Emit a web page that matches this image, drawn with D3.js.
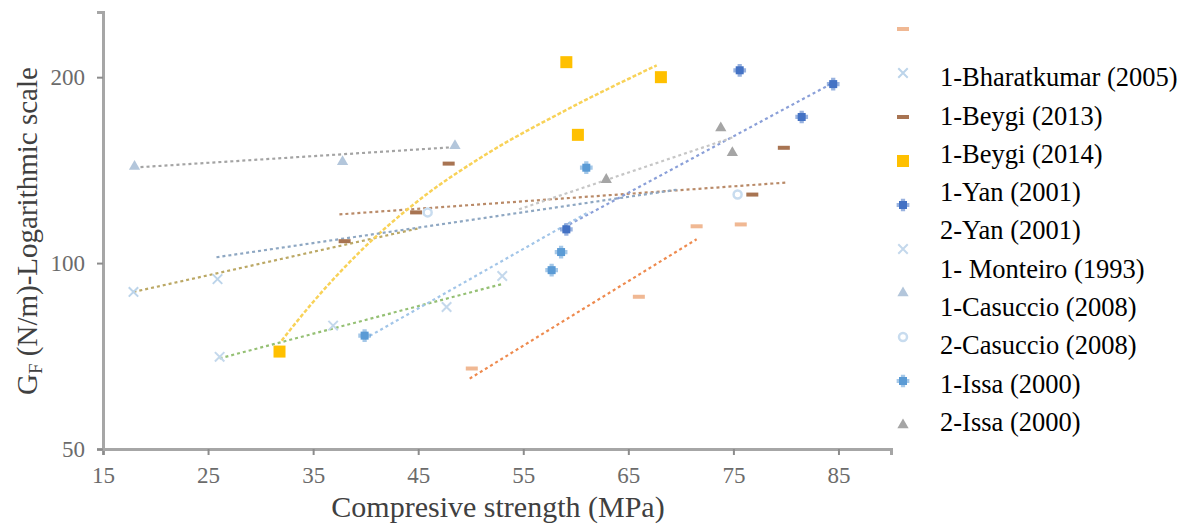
<!DOCTYPE html>
<html>
<head>
<meta charset="utf-8">
<script src="https://cdn.jsdelivr.net/npm/d3@7"></script>
<style>
  body { margin: 0; background: #fff; }
  text { font-family: "Liberation Serif", "DejaVu Serif", serif; }
</style>
</head>
<body>
<script>
// values: [compressive strength MPa, GF N/m]
const orangePts = [[50.1, 67.5], [66.0, 88.2], [71.5, 114.7], [75.7, 115.5]];
const orangeTrend = [[49.9, 65.0], [71.5, 109.3]];

const bharatPts = [[17.9, 89.8], [25.9, 94.2]];
const bharatTrend = [[17.9, 89.8], [45.1, 113.9]];

const beygi13Pts = [[38.0, 108.5], [44.8, 120.8], [47.9, 144.9], [76.8, 129.1], [79.8, 153.7]];
const beygi13Trend = [[37.5, 119.9], [80.0, 135.0]];

const beygi14Pts = [[31.8, 71.9], [59.1, 211.5], [60.2, 161.3], [68.1, 200.0]];
const beygi14Trend = [[32.0, 74.9], [35.0, 86.5], [39.4, 104.1], [45.4, 127.7], [51.1, 148.7], [59.1, 177.0], [67.7, 209.0]];

const yan1Pts = [[59.1, 113.4], [75.6, 205.2], [81.5, 172.4], [84.5, 194.9]];
const yan1Trend = [[58.9, 114.3], [84.6, 196.3]];

const yan2Pts = [[26.1, 70.5], [36.9, 79.2], [47.7, 84.9], [53.0, 95.3]];
const yan2Trend = [[26.1, 70.1], [53.0, 92.5]];

const casuccio1Pts = [[18.0, 143.3], [37.8, 145.9], [48.5, 154.9]];
const casuccio1Trend = [[18.0, 142.8], [48.5, 154.1]];

const casuccio2Pts = [[45.9, 120.8], [75.4, 129.1]];
const casuccio2Trend = [[25.8, 102.2], [69.8, 131.6]];

const issa1Pts = [[39.9, 76.3], [57.7, 97.4], [58.6, 104.2], [61.0, 142.7]];
const issa1Trend = [[39.9, 75.4], [61.3, 121.2]];

const issa2Pts = [[62.9, 136.5], [73.8, 165.5], [74.9, 150.9]];
const issa2Trend = [[54.6, 122.2], [75.1, 160.1]];

const legendLabels = ["1-Bharatkumar (2005)", "1-Beygi (2013)", "1-Beygi (2014)", "1-Yan (2001)",
  "2-Yan (2001)", "1- Monteiro (1993)", "1-Casuccio (2008)", "2-Casuccio (2008)",
  "1-Issa (2000)", "2-Issa (2000)"];

const xTicks = [15, 25, 35, 45, 55, 65, 75, 85];
const yTicks = [50, 100, 200];

const W = 1187, H = 525;

const svg = d3.select("body").append("svg").attr("width", W).attr("height", H);

const x = d3.scaleLinear().domain([15, 90]).range([103, 891]);
const y = d3.scaleLog().domain([50, 255]).range([449, 12]);

// series styles
const series = [
  { pts: orangePts, trend: orangeTrend, sym: "dash", fill: "#f0b893", line: "#ee8a4e" },
  { pts: bharatPts, trend: bharatTrend, sym: "x", fill: "#bcd4ea", line: "#bba865" },
  { pts: beygi13Pts, trend: beygi13Trend, sym: "dash", fill: "#a87452", line: "#b98a68" },
  { pts: beygi14Pts, trend: beygi14Trend, sym: "square", fill: "#ffc000", line: "#f8d258", curve: true },
  { pts: yan1Pts, trend: yan1Trend, sym: "block", fill: "#4472c4", line: "#8a9fd8" },
  { pts: yan2Pts, trend: yan2Trend, sym: "x", fill: "#c4d8ec", line: "#95c074" },
  { pts: casuccio1Pts, trend: casuccio1Trend, sym: "triangle", fill: "#b3c6db", line: "#a4a4a4" },
  { pts: casuccio2Pts, trend: casuccio2Trend, sym: "circle", fill: "#c8dcef", line: "#8ea7c2" },
  { pts: issa1Pts, trend: issa1Trend, sym: "block", fill: "#5b9bd5", line: "#a2c5e8" },
  { pts: issa2Pts, trend: issa2Trend, sym: "triangle", fill: "#a5a5a5", line: "#c6c6c6" }
];

function drawMarker(g, s, cx, cy) {
  if (s.sym === "dash") {
    g.append("rect").attr("x", cx - 6).attr("y", cy - 2).attr("width", 12).attr("height", 4).attr("fill", s.fill);
  } else if (s.sym === "square") {
    g.append("rect").attr("x", cx - 6).attr("y", cy - 6).attr("width", 12).attr("height", 12).attr("fill", s.fill);
  } else if (s.sym === "block") {
    // small filled square with a soft plus shape, as the blurred markers look
    g.append("path").attr("transform", `translate(${cx},${cy})`)
      .attr("d", d3.symbol(d3.symbolCross, 90)()).attr("fill", s.fill).attr("opacity", 0.55);
    g.append("rect").attr("x", cx - 4).attr("y", cy - 4).attr("width", 8).attr("height", 8).attr("fill", s.fill);
  } else if (s.sym === "x") {
    g.append("path").attr("transform", `translate(${cx},${cy})`)
      .attr("d", d3.symbol(d3.symbolX, 60)()).attr("fill", "none")
      .attr("stroke", s.fill).attr("stroke-width", 2);
  } else if (s.sym === "circle") {
    g.append("circle").attr("cx", cx).attr("cy", cy).attr("r", 4)
      .attr("fill", "#fff").attr("stroke", s.fill).attr("stroke-width", 2.5);
  } else {
    g.append("path").attr("transform", `translate(${cx},${cy})`)
      .attr("d", d3.symbol(d3.symbolTriangle, 55)()).attr("fill", s.fill);
  }
}

// axes
const axisColor = "#a6a6a6";
const xAxis = d3.axisBottom(x).tickValues(xTicks).tickSize(6).tickPadding(12);
const yAxis = d3.axisLeft(y).tickValues(yTicks).tickFormat(d3.format("d")).tickSize(6).tickPadding(12);

const gx = svg.append("g").attr("transform", "translate(0,449)").call(xAxis);
const gy = svg.append("g").attr("transform", "translate(103,0)").call(yAxis);
[gx, gy].forEach(g => {
  g.select(".domain").attr("stroke", axisColor).attr("stroke-width", 3);
  g.selectAll(".tick line").attr("stroke", "#8c8c8c").attr("stroke-width", 2);
  g.selectAll(".tick text").attr("fill", "#6b6b6b").attr("font-size", 23)
    .attr("font-family", "'Liberation Serif', serif");
});

// trend lines
const line = d3.line().x(d => x(d[0])).y(d => y(d[1]));
const plot = svg.append("g");
series.forEach(s => {
  plot.append("path")
    .attr("d", (s.curve ? line.curve(d3.curveMonotoneX) : line.curve(d3.curveLinear))(s.trend))
    .attr("fill", "none")
    .attr("stroke", s.line)
    .attr("stroke-width", s.curve ? 2.5 : 2.2)
    .attr("stroke-dasharray", s.curve ? "4,2" : "3,3");
});

// points
series.forEach(s => {
  s.pts.forEach(p => drawMarker(plot, s, x(p[0]), y(p[1])));
});

// axis titles
svg.append("text")
  .attr("x", 498).attr("y", 517)
  .attr("text-anchor", "middle")
  .attr("font-size", 30)
  .attr("fill", "#404040")
  .text("Compresive strength (MPa)");

const yt = svg.append("text")
  .attr("transform", "translate(37,231) rotate(-90)")
  .attr("text-anchor", "middle")
  .attr("font-size", 29)
  .attr("fill", "#404040");
yt.append("tspan").text("G");
yt.append("tspan").attr("font-size", 19).attr("dy", 5).text("F");
yt.append("tspan").attr("dy", -5).text(" (N/m)-Logarithmic scale");

// legend: markers and labels sit on slightly different pitches, as in the picture
const leg = svg.append("g");
series.forEach((s, i) => {
  drawMarker(leg, s, 903, 29 + i * 44);
});
legendLabels.forEach((lab, i) => {
  leg.append("text")
    .attr("x", 940)
    .attr("y", 77 + i * 38.3)
    .attr("dy", "0.35em")
    .attr("font-size", 26.5)
    .attr("fill", "#000")
    .text(lab);
});
</script>
</body>
</html>
